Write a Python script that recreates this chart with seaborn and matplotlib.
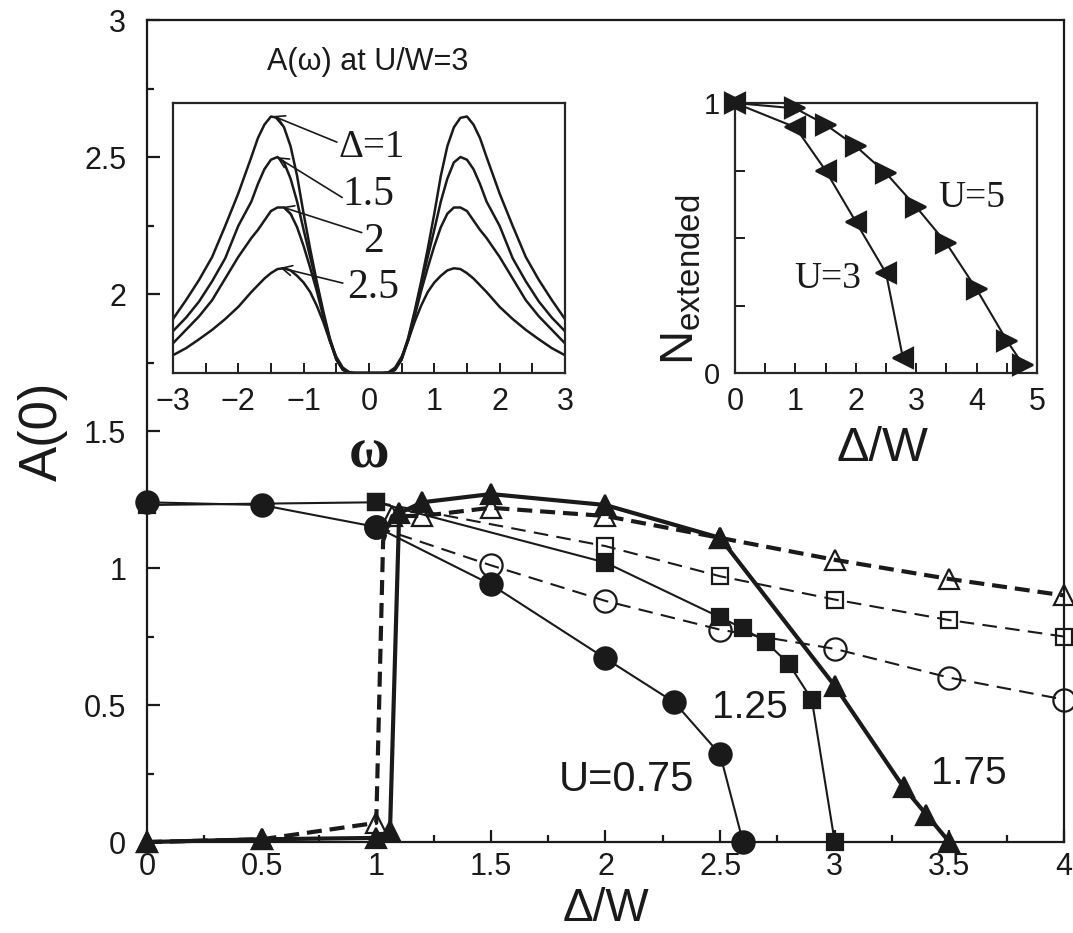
import matplotlib
matplotlib.use("Agg")
import matplotlib.pyplot as plt
import seaborn as sns
import pandas as pd

# ---------------- main panel data: A(0) vs Delta/W ----------------
d_u075 = [0.0, 0.5, 1.0, 1.5, 2.0, 2.3, 2.5, 2.6]
a_u075 = [1.24, 1.23, 1.15, 0.94, 0.67, 0.51, 0.32, 0.0]
d_u075_open = [1.0, 1.5, 2.0, 2.5, 3.0, 3.5, 4.0]
a_u075_open = [1.15, 1.01, 0.88, 0.775, 0.705, 0.60, 0.52]

d_u125 = [0.0, 1.0, 2.0, 2.5, 2.6, 2.7, 2.8, 2.9, 3.0]
a_u125 = [1.23, 1.24, 1.02, 0.82, 0.78, 0.73, 0.65, 0.52, 0.0]
d_u125_open = [1.0, 2.0, 2.5, 3.0, 3.5, 4.0]
a_u125_open = [1.24, 1.08, 0.97, 0.885, 0.81, 0.75]

d_u175 = [0.0, 0.5, 1.0, 1.06, 1.1, 1.2, 1.5, 2.0, 2.5, 3.0, 3.3, 3.4, 3.5]
a_u175 = [0.0, 0.01, 0.015, 0.04, 1.2, 1.24, 1.27, 1.23, 1.11, 0.57, 0.2, 0.1, 0.0]
d_u175_open = [0.0, 0.5, 1.0, 1.03, 1.07, 1.2, 1.5, 2.0, 2.5, 3.0, 3.5, 4.0]
a_u175_open = [0.0, 0.01, 0.07, 1.1, 1.19, 1.19, 1.22, 1.19, 1.11, 1.03, 0.96, 0.90]
u175_open_marked = [0, 1, 2, 4, 5, 6, 7, 8, 9, 10, 11]

main_xticks = [0, 0.5, 1, 1.5, 2, 2.5, 3, 3.5, 4]
main_xticklabels = ["0", "0.5", "1", "1.5", "2", "2.5", "3", "3.5", "4"]
main_yticks = [0, 0.5, 1, 1.5, 2, 2.5, 3]
main_yticklabels = ["0", "0.5", "1", "1.5", "2", "2.5", "3"]

# ---------------- inset 1: A(omega) at U/W=3 ----------------
omega = [-3.0, -2.8, -2.6, -2.4, -2.2, -2.0, -1.8, -1.7, -1.6, -1.5, -1.4, -1.3,
         -1.2, -1.1, -1.0, -0.9, -0.8, -0.7, -0.6, -0.5, -0.4, -0.3, -0.2, 0.0,
         0.2, 0.3, 0.4, 0.5, 0.6, 0.7, 0.8, 0.9, 1.0, 1.1, 1.2, 1.3, 1.4, 1.5,
         1.6, 1.7, 1.8, 2.0, 2.2, 2.4, 2.6, 2.8, 3.0]
A_d1 = [0.20, 0.27, 0.345, 0.43, 0.545, 0.665, 0.80, 0.87, 0.92, 0.95, 0.945, 0.91,
        0.84, 0.73, 0.59, 0.46, 0.34, 0.23, 0.13, 0.055, 0.015, 0.0, 0.0, 0.0,
        0.0, 0.0, 0.015, 0.055, 0.13, 0.23, 0.34, 0.46, 0.59, 0.73, 0.84, 0.91,
        0.945, 0.95, 0.92, 0.87, 0.80, 0.665, 0.545, 0.43, 0.345, 0.27, 0.20]
A_d15 = [0.155, 0.205, 0.265, 0.34, 0.425, 0.545, 0.635, 0.70, 0.755, 0.79, 0.80, 0.78,
         0.72, 0.635, 0.53, 0.43, 0.33, 0.22, 0.125, 0.05, 0.012, 0.0, 0.0, 0.0,
         0.0, 0.0, 0.012, 0.05, 0.125, 0.22, 0.33, 0.43, 0.53, 0.635, 0.72, 0.78,
         0.80, 0.79, 0.755, 0.70, 0.635, 0.545, 0.425, 0.34, 0.265, 0.205, 0.155]
A_d2 = [0.11, 0.16, 0.21, 0.27, 0.35, 0.43, 0.50, 0.53, 0.565, 0.60, 0.613, 0.613,
        0.59, 0.54, 0.47, 0.39, 0.305, 0.21, 0.12, 0.05, 0.012, 0.0, 0.0, 0.0,
        0.0, 0.0, 0.012, 0.05, 0.12, 0.21, 0.305, 0.39, 0.47, 0.54, 0.59, 0.613,
        0.613, 0.60, 0.565, 0.53, 0.50, 0.43, 0.35, 0.27, 0.21, 0.16, 0.11]
A_d25 = [0.066, 0.092, 0.125, 0.16, 0.20, 0.245, 0.30, 0.325, 0.35, 0.37, 0.385, 0.388,
         0.38, 0.36, 0.335, 0.30, 0.25, 0.19, 0.12, 0.06, 0.02, 0.003, 0.0, 0.0,
         0.0, 0.003, 0.02, 0.06, 0.12, 0.19, 0.25, 0.30, 0.335, 0.36, 0.38, 0.388,
         0.385, 0.37, 0.35, 0.325, 0.30, 0.245, 0.20, 0.16, 0.125, 0.092, 0.066]
inset1_xticks = [-3, -2, -1, 0, 1, 2, 3]
peak_labels = ["Δ=1", "1.5", "2", "2.5"]
peak_tips = [(-1.47, 0.952), (-1.41, 0.80), (-1.33, 0.615), (-1.36, 0.39)]

# ---------------- inset 2: N_extended vs Delta/W ----------------
d_n3 = [0.0, 1.0, 1.5, 2.0, 2.5, 2.78]
n_u3 = [1.0, 0.91, 0.75, 0.56, 0.37, 0.055]
d_n5 = [0.0, 1.0, 1.5, 2.0, 2.5, 3.0, 3.5, 4.0, 4.5, 4.77]
n_u5 = [1.0, 0.98, 0.92, 0.84, 0.74, 0.615, 0.48, 0.31, 0.12, 0.03]
inset2_xticks = [0, 1, 2, 3, 4, 5]

# ---------------- style ----------------
sns.set_theme(style="ticks")
plt.rcParams["font.family"] = ["Liberation Sans", "DejaVu Sans"]
plt.rcParams["mathtext.fontset"] = "custom"
plt.rcParams["mathtext.rm"] = "Liberation Sans"
plt.rcParams["axes.linewidth"] = 1.6
plt.rcParams["axes.unicode_minus"] = True
SERIF = ["Liberation Serif", "DejaVu Serif"]

fig = plt.figure(figsize=(10.73, 9.33), dpi=100)
ax = fig.add_axes([0.1370, 0.0975, 0.8546, 0.881])


def draw(axis, x, y, lw, ls, marker, ms, filled, z, markevery=None, dash=None):
    df = pd.DataFrame({"x": x, "y": y})
    kw = dict(color="k", lw=lw, marker=marker, ms=ms, mec="k", mew=1.6,
              mfc="k" if filled else "none", clip_on=False, zorder=z)
    if dash is not None:
        kw["linestyle"] = (0, dash)
    else:
        kw["linestyle"] = ls
    if markevery is not None:
        kw["markevery"] = markevery
    sns.lineplot(data=df, x="x", y="y", ax=axis, sort=False, estimator=None,
                 legend=False, **kw)


# open-symbol (dashed) series first
draw(ax, d_u075_open, a_u075_open, 1.5, "--", "o", 16, False, 3, dash=(7, 4))
draw(ax, d_u125_open, a_u125_open, 1.5, "--", "s", 12, False, 3, dash=(7, 4))
draw(ax, d_u175_open, a_u175_open, 3.0, "--", "^", 14, False, 3,
     markevery=u175_open_marked, dash=(3.6, 1.9))
# filled-symbol (solid) series
draw(ax, d_u075, a_u075, 1.5, "-", "o", 16, True, 4)
draw(ax, d_u125, a_u125, 1.5, "-", "s", 12, True, 4)
draw(ax, d_u175, a_u175, 3.0, "-", "^", 14, True, 5)

ax.set_xlim(0, 4)
ax.set_ylim(0, 3)
ax.set_xticks(main_xticks)
ax.set_xticklabels(main_xticklabels)
ax.set_yticks(main_yticks)
ax.set_yticklabels(main_yticklabels)
ax.set_xticks([0.25, 0.75, 1.25, 1.75, 2.25, 2.75, 3.25, 3.75], minor=True)
ax.set_yticks([0.25, 0.75, 1.25, 1.75, 2.25, 2.75], minor=True)
ax.tick_params(which="both", direction="in", top=False, right=False,
               labelsize=22, width=1.6, colors="k")
ax.tick_params(which="major", length=9)
ax.tick_params(which="minor", length=5)
ax.tick_params(axis="x", which="major", pad=7)
ax.tick_params(axis="y", which="major", pad=15)
for s in ax.spines.values():
    s.set_visible(True)
    s.set_color("k")
ax.set_xlabel("Δ/W", fontsize=33, color="k")
ax.set_ylabel("A(0)", fontsize=38, color="k")
ax.xaxis.label.set_va("bottom")
ax.xaxis.set_label_coords(0.5, -0.1085)
ax.yaxis.set_label_coords(-0.086, 0.5)

ax.text(2.09, 0.226, "U=0.75", fontsize=30, ha="center", va="center", color="k")
ax.text(2.63, 0.49, "1.25", fontsize=28, ha="center", va="center", color="k")
ax.text(3.585, 0.25, "1.75", fontsize=28, ha="center", va="center", color="k")

# ---------------- inset 1 ----------------
ax1 = fig.add_axes([0.1612, 0.6002, 0.3653, 0.2894])
for col in (A_d1, A_d15, A_d2, A_d25):
    sns.lineplot(x=omega, y=col, ax=ax1, color="k", lw=1.8, sort=False,
                 estimator=None, legend=False)
ax1.set_xlim(-3, 3)
ax1.set_ylim(0, 1)
ax1.set_xticks(inset1_xticks)
ax1.set_xticks([-2.5, -1.5, -0.5, 0.5, 1.5, 2.5], minor=True)
ax1.set_yticks([])
ax1.tick_params(which="both", direction="in", length=7, width=1.4,
                labelsize=22, pad=10, colors="k")
ax1.set_xlabel("ω", fontsize=40, family=SERIF, fontweight="bold", color="k")
ax1.xaxis.set_label_coords(0.5, -0.20)
ax1.set_ylabel("")
label_pos = [(-0.47, 0.837), (-0.40, 0.66), (-0.09, 0.485), (-0.34, 0.315)]
tail_pos = [(-0.49, 0.855), (-0.41, 0.65), (-0.11, 0.52), (-0.40, 0.333)]
label_sizes = [28, 30, 30, 30]
for lab, tip, lp, tp, fs in zip(peak_labels, peak_tips, label_pos, tail_pos, label_sizes):
    ax1.annotate("", xy=tip, xytext=tp,
                 arrowprops=dict(arrowstyle="->", lw=1.2, color="k",
                                 shrinkA=0, shrinkB=0, mutation_scale=18))
    ax1.text(lp[0], lp[1], lab, fontsize=fs, family=SERIF, ha="left",
             va="center", color="k")
fig.text(368 / 1073, 1 - 62 / 933, "A(ω) at U/W=3", fontsize=22,
         ha="center", va="center", color="k")

# ---------------- inset 2 ----------------
ax2 = fig.add_axes([0.685, 0.6002, 0.2815, 0.2894])
draw(ax2, d_n3, n_u3, 1.5, "-", "<", 15, True, 4)
draw(ax2, d_n5, n_u5, 1.5, "-", ">", 15, True, 4)
ax2.set_xlim(0, 5)
ax2.set_ylim(0, 1)
ax2.set_xticks(inset2_xticks)
ax2.set_xticks([0.5, 1.5, 2.5, 3.5, 4.5], minor=True)
ax2.set_yticks([0, 1])
ax2.set_yticks([0.25, 0.5, 0.75], minor=True)
ax2.tick_params(which="both", direction="in", length=7, width=1.4,
                labelsize=22, colors="k")
ax2.tick_params(axis="x", pad=10)
ax2.tick_params(axis="y", pad=11, labelsize=21)
ax2.set_xlabel("Δ/W", fontsize=35, color="k")
ax2.xaxis.set_label_coords(0.487, -0.196)
ax2.set_ylabel(r"$\mathrm{N_{extended}}$", fontsize=34, color="k")
ax2.yaxis.set_label_coords(-0.103, 0.345)
ax2.text(3.92, 0.648, "U=5", fontsize=27, family=SERIF, ha="center", va="center", color="k")
ax2.text(1.54, 0.35, "U=3", fontsize=27, family=SERIF, ha="center", va="center", color="k")

fig.savefig("out.png", dpi=100)
